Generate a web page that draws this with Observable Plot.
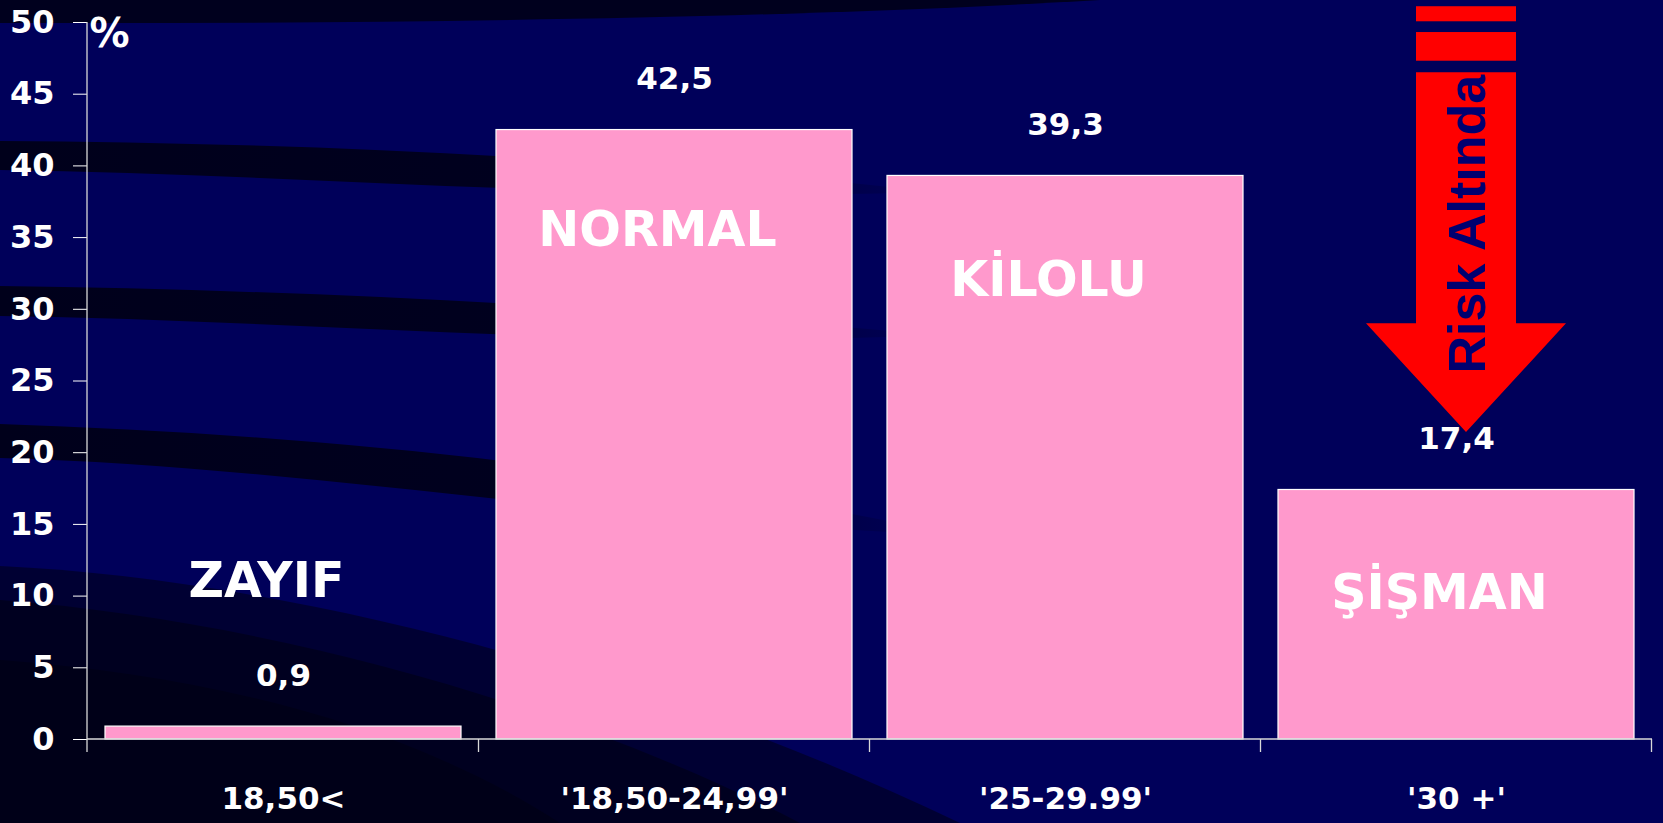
<!DOCTYPE html>
<html>
<head>
<meta charset="utf-8">
<script src="https://cdn.jsdelivr.net/npm/d3@7"></script>
<script src="https://cdn.jsdelivr.net/npm/@observablehq/plot@0.6"></script>
<style>
  html, body { margin: 0; padding: 0; background: #00005a; }
  #wrap { position: relative; width: 1663px; height: 823px; overflow: hidden; }
  #wrap > svg { position: absolute; left: 0; top: 0; }
</style>
</head>
<body>
<div id="wrap"></div>
<script>
// ---- data ----
const categories = ["18,50<", "'18,50-24,99'", "'25-29.99'", "'30 +'"];
const values = [0.9, 42.5, 39.3, 17.4];
const valueLabels = ["0,9", "42,5", "39,3", "17,4"];
const classNames = ["ZAYIF", "NORMAL", "KİLOLU", "ŞİŞMAN"];
const classLabelY = [11.0, 35.5, 32.0, 10.2];
const yTicks = [0, 5, 10, 15, 20, 25, 30, 35, 40, 45, 50];
const arrowText = "Risk Altında";

const data = categories.map((c, i) => ({
  cat: c, value: values[i], label: valueLabels[i], name: classNames[i], nameY: classLabelY[i]
}));

const W = 1663, H = 823;
const wrap = document.getElementById("wrap");

// ---- decorative background swooshes ----
const bg = d3.create("svg").attr("width", W).attr("height", H);
const defs = bg.append("defs");
const grad = defs.append("linearGradient").attr("id", "fade").attr("gradientUnits", "userSpaceOnUse")
  .attr("x1", 0).attr("y1", 0).attr("x2", 960).attr("y2", 0);
grad.append("stop").attr("offset", 0).attr("stop-color", "#000014").attr("stop-opacity", 0.9);
grad.append("stop").attr("offset", 0.55).attr("stop-color", "#000014").attr("stop-opacity", 0.85);
grad.append("stop").attr("offset", 1).attr("stop-color", "#000014").attr("stop-opacity", 0.0);
bg.append("rect").attr("width", W).attr("height", H).attr("fill", "#00005a");
const swooshes = [
  "M0,0 H1100 C800,18 400,24 0,23 Z",
  "M0,141 C300,143 600,156 940,192 C600,202 300,174 0,170 Z",
  "M0,286 C300,290 600,305 940,335 C600,350 300,320 0,316 Z",
  "M0,424 C300,434 600,462 960,535 C600,522 300,466 0,458 Z"
];
swooshes.forEach((d, i) => bg.append("path").attr("d", d).attr("fill", i === 0 ? "#000014" : "url(#fade)").attr("opacity", i === 0 ? 0.85 : 1));
bg.append("path").attr("d", "M0,566 C260,578 620,660 960,823 L0,823 Z").attr("fill", "#000014").attr("opacity", 0.55);
bg.append("path").attr("d", "M0,600 C260,620 560,700 800,823 L0,823 Z").attr("fill", "#000014").attr("opacity", 0.6);
bg.append("path").attr("d", "M0,660 C200,675 400,720 560,823 L0,823 Z").attr("fill", "#000010").attr("opacity", 0.5);
wrap.appendChild(bg.node());

const font = "'Comic Sans MS', 'DejaVu Sans', sans-serif";

// custom mark: axis lines and category boundary ticks
function axisLines(index, scales, values, dims) {
  const sx = scales.x, sy = scales.y;
  const bw = typeof sx.bandwidth === "function" ? sx.bandwidth() : sx.bandwidth;
  const step = sx(categories[1]) - sx(categories[0]);
  const gap = (step - bw) / 2;
  const g = d3.create("svg:g").attr("stroke", "#d9d9d9").attr("stroke-width", 1.3);
  const y0 = sy(0);
  const left = dims.marginLeft, right = dims.width - dims.marginRight;
  g.append("line").attr("x1", left).attr("x2", left).attr("y1", dims.marginTop).attr("y2", y0 + 13);
  g.append("line").attr("x1", left).attr("x2", right).attr("y1", y0).attr("y2", y0);
  categories.forEach((c, i) => {
    const bx = sx(c) - gap;
    if (i > 0) g.append("line").attr("x1", bx).attr("x2", bx).attr("y1", y0).attr("y2", y0 + 13);
  });
  const last = sx(categories[categories.length - 1]) + bw + gap;
  g.append("line").attr("x1", last).attr("x2", last).attr("y1", y0).attr("y2", y0 + 13);
  return g.node();
}

// custom mark: red "Risk Altında" arrow over the last category
function riskArrow(index, scales) {
  const sx = scales.x, sy = scales.y;
  const bw = typeof sx.bandwidth === "function" ? sx.bandwidth() : sx.bandwidth;
  const cx = sx(categories[3]) + bw / 2 + 10;
  const g = d3.create("svg:g");
  const hw = 50, hh = 100;
  g.append("rect").attr("x", cx - hw).attr("width", 2 * hw).attr("y", sy(51.1)).attr("height", sy(50.05) - sy(51.1)).attr("fill", "#ff0000");
  g.append("rect").attr("x", cx - hw).attr("width", 2 * hw).attr("y", sy(49.3)).attr("height", sy(47.3) - sy(49.3)).attr("fill", "#ff0000");
  const ts = sy(46.5), th = sy(29.0), tip = sy(21.4);
  g.append("path")
    .attr("d", `M${cx - hw},${ts} H${cx + hw} V${th} H${cx + hh} L${cx},${tip} L${cx - hh},${th} H${cx - hw} Z`)
    .attr("fill", "#ff0000");
  g.append("text")
    .attr("transform", `translate(${cx + 1},${sy(35.9)}) rotate(-90)`)
    .attr("text-anchor", "middle")
    .attr("dominant-baseline", "central")
    .attr("font-family", "'Liberation Sans', Arial, sans-serif")
    .attr("font-weight", "bold")
    .attr("font-size", 52)
    .attr("fill", "#000070")
    .text(arrowText);
  return g.node();
}

const chart = Plot.plot({
  width: W,
  height: H,
  marginLeft: 87,
  marginRight: 11,
  marginTop: 22,
  marginBottom: 84,
  style: { background: "transparent", color: "white", fontFamily: font, fontWeight: "bold", overflow: "visible" },
  x: { domain: categories, paddingInner: 0.09, paddingOuter: 0.045, label: null },
  y: { domain: [0, 50], label: null },
  marks: [
    Plot.barY(data, { x: "cat", y: "value", fill: "#ff99cc", stroke: "#ffffff", strokeWidth: 1.2 }),
    Plot.axisY({ ticks: yTicks, tickSize: 14, tickPadding: 19, fontSize: 32, tickFormat: d => String(d), label: null }),
    Plot.axisX({ tickSize: 0, tickPadding: 47, fontSize: 31, label: null }),
    axisLines,
    Plot.text(data, { x: "cat", y: "value", text: "label", dy: -51, fontSize: 31, fill: "white", fontWeight: "bold" }),
    Plot.text(data, { x: "cat", y: "nameY", text: "name", dx: -17, fontSize: 49, fill: "white", fontWeight: "bold" }),
    Plot.text(["%"], { frameAnchor: "top-left", dx: 2, dy: -4, fontSize: 40, fill: "white", fontWeight: "bold", textAnchor: "start", lineAnchor: "top" }),
    riskArrow
  ]
});
wrap.appendChild(chart);
</script>
</body>
</html>
